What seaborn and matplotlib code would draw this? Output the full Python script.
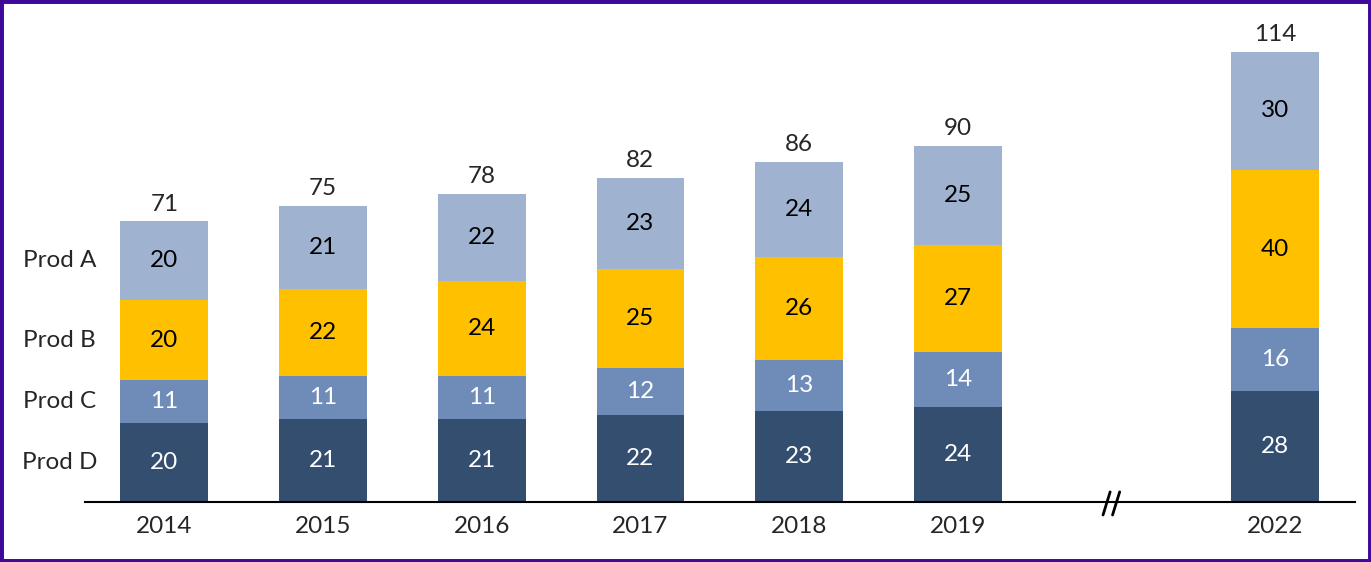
import pandas as pd
import seaborn as sns
import matplotlib.pyplot as plt
import matplotlib.transforms as mtransforms
from matplotlib.patches import Rectangle

years = ['2014', '2015', '2016', '2017', '2018', '2019', '2022']
prod_d = [20, 21, 21, 22, 23, 24, 28]
prod_c = [11, 11, 11, 12, 13, 14, 16]
prod_b = [20, 22, 24, 25, 26, 27, 40]
prod_a = [20, 21, 22, 23, 24, 25, 30]
totals = [71, 75, 78, 82, 86, 90, 114]

# empty slot between 2019 and 2022 for the axis break
order = years[:6] + [' '] + years[6:]

products = ['Prod D', 'Prod C', 'Prod B', 'Prod A']
values = {'Prod D': prod_d, 'Prod C': prod_c, 'Prod B': prod_b, 'Prod A': prod_a}
colors = {'Prod D': '#344e70', 'Prod C': '#6f8cb9', 'Prod B': '#ffc000', 'Prod A': '#9fb2d0'}
text_colors = {'Prod D': 'white', 'Prod C': 'white', 'Prod B': 'black', 'Prod A': 'black'}

df = pd.DataFrame({'Year': years})
cum = 0
for p in products:
    df[p] = values[p]
    cum = cum + df[p]
    df[p + '_top'] = cum

sns.set_style('white')
plt.rcParams['font.family'] = ['Lato', 'DejaVu Sans']
fs = 17.5

fig = plt.figure(figsize=(13.71, 5.62), dpi=100)
ax = fig.add_axes([0.062, 0.1068, 0.926, 0.8576])

# draw cumulative bars from the top segment down
for p in reversed(products):
    sns.barplot(data=df, x='Year', y=p + '_top', order=order, color=colors[p],
                width=0.553, saturation=1, ax=ax, linewidth=0)

pos = {y: order.index(y) for y in years}
for i, row in df.iterrows():
    x = pos[row['Year']]
    for p in products:
        mid = row[p + '_top'] - row[p] / 2
        ax.text(x, mid, str(row[p]), ha='center', va='center', fontsize=fs,
                color=text_colors[p])
    ax.annotate(str(totals[i]), (x, row['Prod A_top']), xytext=(0, 5),
                textcoords='offset points', ha='center', va='bottom', fontsize=fs)

# product labels beside the first bar
first = df.iloc[0]
for p in products:
    mid = first[p + '_top'] - first[p] / 2
    ax.text(-0.66, mid, p, ha='center', va='center', fontsize=fs, clip_on=False)

ax.set_xlim(-0.5, 7.5)
ax.set_ylim(0, 122)
ax.set_xlabel('')
ax.set_ylabel('')
ax.set_yticks([])
ax.tick_params(axis='x', length=0, labelsize=fs, pad=10)
for s in ['top', 'right', 'left']:
    ax.spines[s].set_visible(False)
ax.spines['bottom'].set_color('black')
ax.spines['bottom'].set_linewidth(1.5)

# break mark
trans = mtransforms.blended_transform_factory(ax.transData, ax.transAxes)
for dx in [-0.035, 0.025]:
    ax.plot([5.95 + dx, 5.995 + dx], [-0.027, 0.021], color='black', lw=2,
            transform=trans, clip_on=False)

fig.patches.append(Rectangle((0, 0), 1, 1, transform=fig.transFigure, fill=False,
                             edgecolor='#3f0a99', linewidth=5))

fig.savefig('out.png', dpi=100)
